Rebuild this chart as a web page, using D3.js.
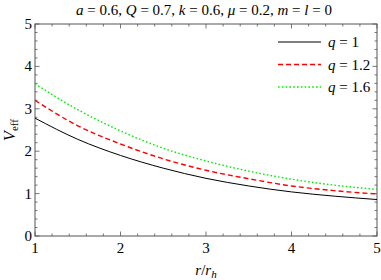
<!DOCTYPE html>
<html>
<head>
<meta charset="utf-8">
<script src="https://cdn.jsdelivr.net/npm/d3@7"></script>
<style>
  body { margin: 0; background: #fff; }
</style>
</head>
<body>
<svg id="chart"></svg>
<script>
var rValues = [1, 1.5, 2, 2.5, 3, 3.5, 4, 4.5, 5];
var vQ1   = [2.78, 2.28, 1.90, 1.60, 1.36, 1.18, 1.04, 0.94, 0.86];
var vQ12  = [3.20, 2.60, 2.17, 1.82, 1.55, 1.35, 1.18, 1.07, 0.99];
var vQ16  = [3.59, 2.98, 2.48, 2.07, 1.77, 1.53, 1.34, 1.20, 1.10];
var seriesNames = ["1", "1.2", "1.6"];
var xTicks = [1, 2, 3, 4, 5];
var yTicks = [0, 1, 2, 3, 4, 5];

var width = 381, height = 280;
var mLeft = 35, mRight = 377, mTop = 24, mBottom = 236;
var serif = "'Liberation Serif', 'Times New Roman', serif";

var svg = d3.select("#chart")
    .attr("width", width)
    .attr("height", height)
    .attr("font-family", serif);

var x = d3.scaleLinear().domain([1, 5]).range([mLeft, mRight]);
var y = d3.scaleLinear().domain([0, 5]).range([mBottom, mTop]);

var frameColor = "#555";

// minor ticks every 0.2
var xMinor = d3.range(1, 5.001, 0.2);
var yMinor = d3.range(0, 5.001, 0.2);

function isMajor(v) { return Math.abs(v - Math.round(v)) < 1e-6; }

var ticks = svg.append("g").attr("stroke", frameColor).attr("stroke-width", 0.8);
xMinor.forEach(function(v){
    var len = isMajor(v) ? 4.5 : 2.5;
    ticks.append("line").attr("x1", x(v)).attr("x2", x(v)).attr("y1", mBottom).attr("y2", mBottom - len);
    ticks.append("line").attr("x1", x(v)).attr("x2", x(v)).attr("y1", mTop).attr("y2", mTop + len);
});
yMinor.forEach(function(v){
    var len = isMajor(v) ? 4.5 : 2.5;
    ticks.append("line").attr("y1", y(v)).attr("y2", y(v)).attr("x1", mLeft).attr("x2", mLeft + len);
    ticks.append("line").attr("y1", y(v)).attr("y2", y(v)).attr("x1", mRight).attr("x2", mRight - len);
});

svg.append("rect")
    .attr("x", mLeft).attr("y", mTop)
    .attr("width", mRight - mLeft).attr("height", mBottom - mTop)
    .attr("fill", "none").attr("stroke", frameColor).attr("stroke-width", 1);

// tick labels
svg.selectAll(".xl").data(xTicks).enter().append("text")
    .attr("x", function(d){ return x(d); })
    .attr("y", mBottom + 17)
    .attr("text-anchor", "middle")
    .attr("font-size", 15)
    .text(function(d){ return d; });

svg.selectAll(".yl").data(yTicks).enter().append("text")
    .attr("x", mLeft - 3)
    .attr("y", function(d){ return y(d) + 5; })
    .attr("text-anchor", "end")
    .attr("font-size", 15)
    .text(function(d){ return d; });

// curves
var line = d3.line()
    .x(function(d){ return x(d[0]); })
    .y(function(d){ return y(d[1]); })
    .curve(d3.curveMonotoneX);

var series = [
    { vals: vQ1,  color: "#000", width: 1,   dash: null },
    { vals: vQ12, color: "#ff0000", width: 1.4, dash: "5,3" },
    { vals: vQ16, color: "#00ee00", width: 1.4, dash: "1.6,2.2" }
];

svg.append("clipPath").attr("id", "clip").append("rect")
    .attr("x", mLeft).attr("y", mTop).attr("width", mRight - mLeft).attr("height", mBottom - mTop);

series.forEach(function(s){
    svg.append("path")
        .datum(rValues.map(function(r, i){ return [r, s.vals[i]]; }))
        .attr("d", line)
        .attr("clip-path", "url(#clip)")
        .attr("fill", "none")
        .attr("stroke", s.color)
        .attr("stroke-width", s.width)
        .attr("stroke-dasharray", s.dash);
});

// legend
var legY = [42, 64.5, 87];
series.forEach(function(s, i){
    svg.append("line")
        .attr("x1", 278).attr("x2", 321)
        .attr("y1", legY[i]).attr("y2", legY[i])
        .attr("stroke", s.color)
        .attr("stroke-width", s.width)
        .attr("stroke-dasharray", s.dash);
    var t = svg.append("text")
        .attr("x", 328).attr("y", legY[i] + 5)
        .attr("font-size", 15);
    t.append("tspan").attr("font-style", "italic").text("q");
    t.append("tspan").text(" = " + seriesNames[i]);
});

// title
var title = svg.append("text")
    .attr("x", 204).attr("y", 15)
    .attr("text-anchor", "middle")
    .attr("font-size", 15);
[["a", true], [" = 0.6, ", false], ["Q", true], [" = 0.7, ", false], ["k", true],
 [" = 0.6, ", false], ["\u03bc", true], [" = 0.2, ", false], ["m", true], [" = ", false],
 ["l", true], [" = 0", false]].forEach(function(p){
    title.append("tspan").attr("font-style", p[1] ? "italic" : "normal").text(p[0]);
});

// axis labels
var xl = svg.append("text")
    .attr("x", 206).attr("y", 275)
    .attr("text-anchor", "middle")
    .attr("font-size", 15)
    .attr("font-style", "italic");
xl.append("tspan").text("r");
xl.append("tspan").attr("font-style", "normal").text("/");
xl.append("tspan").text("r");
xl.append("tspan").attr("font-size", 11).attr("dy", 3).text("h");

var yl = svg.append("text")
    .attr("transform", "translate(15," + ((mTop + mBottom) / 2) + ") rotate(-90)")
    .attr("text-anchor", "middle")
    .attr("font-size", 16)
    .attr("font-style", "italic");
yl.append("tspan").text("V");
yl.append("tspan").attr("font-size", 11).attr("font-style", "normal").attr("dy", 3).text("eff");
</script>
</body>
</html>
